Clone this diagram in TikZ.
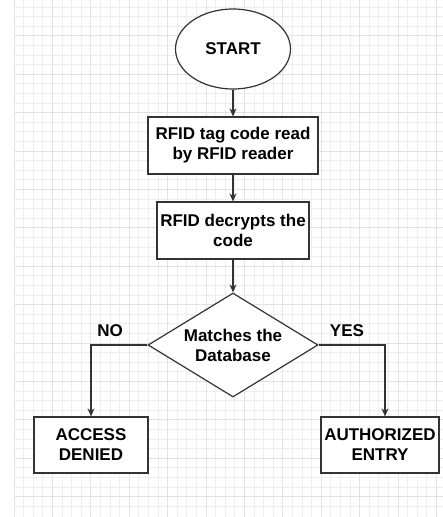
\documentclass[tikz,border=0pt]{standalone}
\usepackage{fontspec}
\setmainfont{Liberation Sans}
\usetikzlibrary{shapes.geometric,arrows.meta}
\definecolor{gridminor}{RGB}{238,238,238}
\definecolor{gridmajor}{RGB}{226,226,226}
\definecolor{linegrey}{RGB}{51,51,51}

\begin{document}
\begin{tikzpicture}[x=1pt,y=-1pt]
    \tikzset{%
      box/.style={rectangle, draw=linegrey, line width=1.2pt, fill=white,
        align=center, inner sep=2pt, font=\bfseries\fontsize{17}{20}\selectfont},
      term/.style={ellipse, draw=linegrey, line width=1.2pt, fill=white,
        inner sep=0pt, font=\bfseries\fontsize{17}{20}\selectfont},
      choice/.style={diamond, draw=linegrey, line width=1.2pt, fill=white,
        align=center, inner sep=0pt, aspect=1.63,
        font=\bfseries\fontsize{17}{20}\selectfont},
      lbl/.style={inner sep=0pt, font=\bfseries\fontsize{17}{20}\selectfont},
      arr/.style={draw=linegrey, line width=1.2pt, -{Stealth[length=8pt,width=7pt]}},
    }
    \useasboundingbox (0,0) rectangle (443,517);
    \fill[white] (0,0) rectangle (443,517);
    % background grid
    \foreach \k in {0,...,44}{
      \pgfmathsetmacro{\gx}{14+9.6*\k}
      \pgfmathtruncatemacro{\maj}{mod(\k,4)==0}
      \ifnum\maj=1
        \draw[gridmajor, line width=0.8pt] (\gx,0) -- (\gx,517);
      \else
        \draw[gridminor, line width=0.8pt] (\gx,0) -- (\gx,517);
      \fi
    }
    \foreach \k in {0,...,53}{
      \pgfmathsetmacro{\gy}{-2.7+9.6*\k}
      \pgfmathtruncatemacro{\maj}{mod(\k,4)==0}
      \ifnum\maj=1
        \draw[gridmajor, line width=0.8pt] (14,\gy) -- (443,\gy);
      \else
        \draw[gridminor, line width=0.8pt] (14,\gy) -- (443,\gy);
      \fi
    }

    \node[term, minimum width=115pt, minimum height=80pt] (start) at (233,49) {START};
    \node[box, minimum width=170pt, minimum height=57pt] (read) at (233,145.5)
      {RFID tag code read\\by RFID reader};
    \node[box, minimum width=152pt, minimum height=57pt] (decrypt) at (233,230.5)
      {RFID decrypts the\\code};
    \node[choice, minimum width=170pt, minimum height=104pt] (match) at (233,345)
      {Matches the\\Database};
    \node[box, minimum width=114pt, minimum height=56pt] (denied) at (91,445)
      {ACCESS\\DENIED};
    \node[box, minimum width=118pt, minimum height=56pt] (entry) at (380,445)
      {AUTHORIZED\\ENTRY};

    \node[lbl] (no) at (110,331) {NO};
    \node[lbl] (yes) at (347,331) {YES};

    \draw[arr] (start) -- (read);
    \draw[arr] (read) -- (decrypt);
    \draw[arr] (decrypt) -- (match);
    \draw[arr] (match.west) -| (denied.north);
    \draw[arr] (match.east) -| ([xshift=5pt]entry.north);
\end{tikzpicture}
\end{document}
